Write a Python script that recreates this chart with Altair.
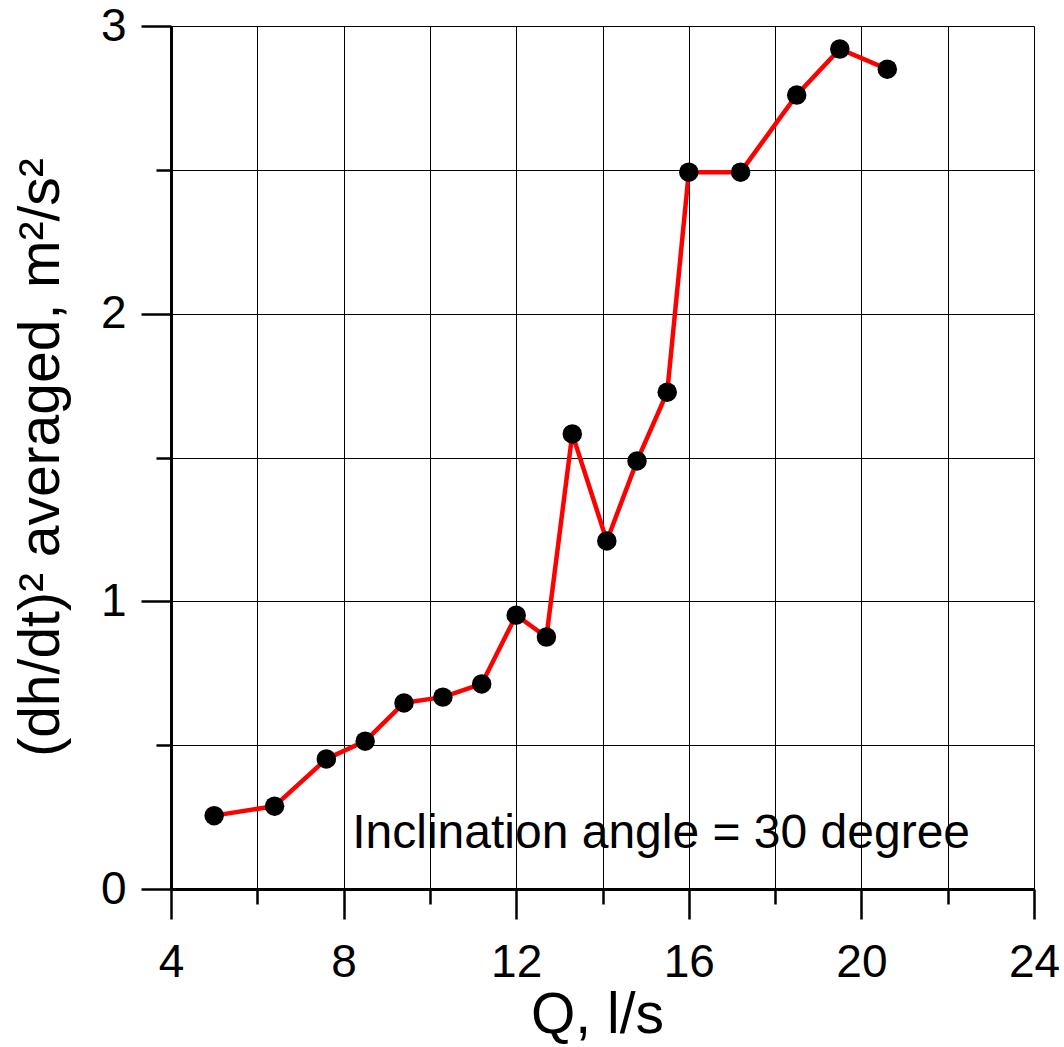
import altair as alt
import pandas as pd

# Data
q_values = [5.0, 6.4, 7.6, 8.5, 9.4, 10.3, 11.2, 12.0, 12.7, 13.3, 14.1, 14.8, 15.5, 16.0, 17.2, 18.5, 19.5, 20.6]
dhdt2 = [0.255, 0.288, 0.452, 0.514, 0.647, 0.667, 0.713, 0.952, 0.876, 1.582, 1.210, 1.488, 1.727, 2.492, 2.492, 2.760, 2.920, 2.850]

x_ticks = [4, 6, 8, 10, 12, 14, 16, 18, 20, 22, 24]
y_ticks = [0, 0.5, 1, 1.5, 2, 2.5, 3]

note_text = ["Inclination angle = 30 degree"]
note_x = [8.2]
note_y = [0.142]

df = pd.DataFrame({"Q": q_values, "V": dhdt2})
note = pd.DataFrame({"x": note_x, "y": note_y, "t": note_text})

FONT = "Liberation Sans"

x_scale = alt.Scale(domain=[4, 24], nice=False, zero=False)
y_scale = alt.Scale(domain=[0, 3], nice=False, zero=False)

x_axis = alt.Axis(
    values=x_ticks,
    labelExpr="datum.value % 4 === 0 ? format(datum.value, 'd') : ''",
    title="Q, l/s",
    titleFont=FONT, titleFontSize=57, titleFontWeight="normal", titleColor="black",
    titleBaseline="alphabetic", titleY=143, titleX=426,
    labelFont=FONT, labelFontSize=46, labelColor="black", labelPadding=21,
    labelFlush=False, labelOverlap=False, labelBound=False,
    tickSize={"condition": {"test": "datum.value % 4 === 0", "value": 30}, "value": 15},
    tickWidth=2.5, tickColor="black",
    domainWidth=3, domainColor="black",
    grid=True, gridColor="black", gridWidth=1, gridOpacity=1,
)

y_axis = alt.Axis(
    values=y_ticks,
    labelExpr="datum.value % 1 === 0 ? format(datum.value, 'd') : ''",
    title="(dh/dt)² averaged, m²/s²",
    titleFont=FONT, titleFontSize=57, titleFontWeight="normal", titleColor="black",
    titleAngle=-90, titleBaseline="alphabetic", titleAlign="center",
    titleX=-113, titleY=431,
    labelFont=FONT, labelFontSize=46, labelColor="black", labelPadding=15,
    labelFlush=False, labelOverlap=False, labelBound=False,
    tickSize={"condition": {"test": "datum.value % 1 === 0", "value": 30}, "value": 15},
    tickWidth=2.5, tickColor="black",
    domainWidth=3, domainColor="black",
    grid=True, gridColor="black", gridWidth=1, gridOpacity=1,
)

base = alt.Chart(df).encode(
    x=alt.X("Q:Q", scale=x_scale, axis=x_axis),
    y=alt.Y("V:Q", scale=y_scale, axis=y_axis),
)

line = base.mark_line(color="#ff0000", strokeWidth=4.5)
points = base.mark_circle(color="black", opacity=1, size=380)

text = alt.Chart(note).mark_text(
    align="left", baseline="alphabetic", font=FONT, fontSize=48, color="black"
).encode(
    x=alt.X("x:Q", scale=x_scale),
    y=alt.Y("y:Q", scale=y_scale),
    text="t:N",
)

chart = alt.layer(line, points, text).properties(
    width=863,
    height=863,
    autosize=alt.AutoSizeParams(type="none"),
    padding={"left": 171, "top": 26, "right": 30, "bottom": 158},
    background="white",
).configure_view(stroke="transparent")

chart.save("out.html", embed_options={"renderer": "svg", "actions": False})
